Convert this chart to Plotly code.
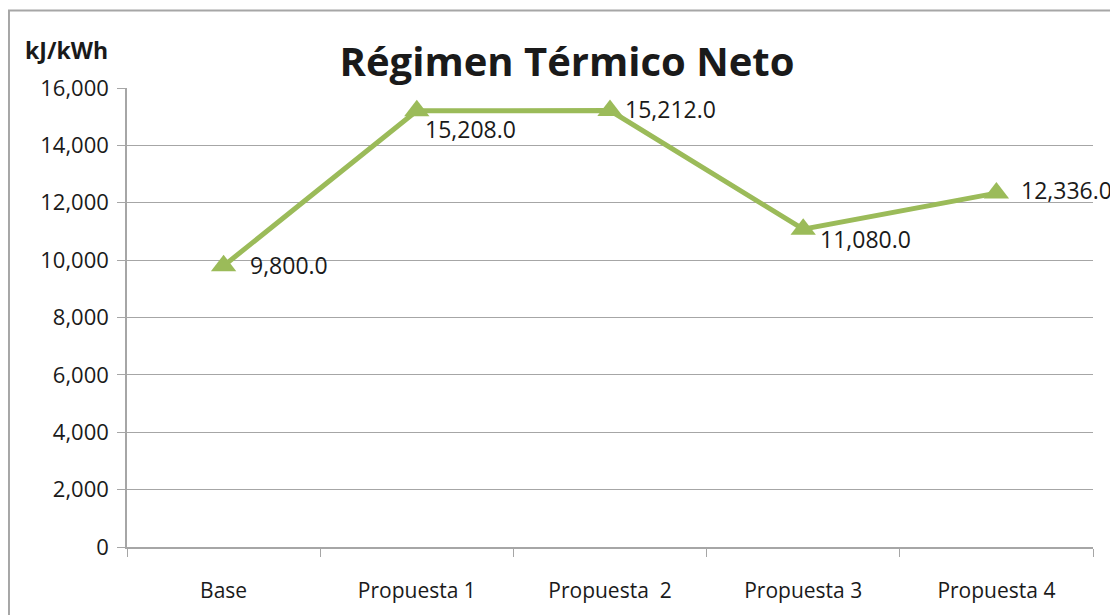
import plotly.graph_objects as go

# datos del gráfico
categorias = ["Base", "Propuesta 1", "Propuesta  2", "Propuesta 3", "Propuesta 4"]
regimen = [9800.0, 15208.0, 15212.0, 11080.0, 12336.0]
# desplazamiento de etiquetas (px)
desp_x = [24, 6, 13, 15, 23]
desp_y = [1, -18, 2, -10, 3]

# la página añade 8 px de margen al cuerpo
OFF = 8
W, H = 1118 - OFF, 615 - OFF
L, T = 127 - OFF, 88 - OFF
R, B = W - (1093 - OFF), H - (547 - OFF)
pw, ph = W - L - R, H - T - B

fig = go.Figure()
fig.add_trace(go.Scatter(
    x=categorias, y=regimen,
    mode="lines+markers",
    line=dict(color="#9BBB59", width=5),
    marker=dict(symbol="triangle-up", size=22, color="#9BBB59"),
    cliponaxis=False,
    showlegend=False,
))

anots = [dict(text="<b>kJ/kWh</b>", xref="paper", yref="paper",
              x=(66 - OFF - L) / pw, y=1 + (T - (50 - OFF)) / ph,
              xanchor="center", yanchor="middle", showarrow=False,
              font=dict(size=23))]
for c, v, dx, dy in zip(categorias, regimen, desp_x, desp_y):
    anots.append(dict(x=c, y=v, text=f"{v:,.1f}", showarrow=False,
                      xanchor="left", yanchor="middle", xshift=dx, yshift=dy,
                      font=dict(size=23, color="#1a1a1a")))

fig.update_layout(
    width=W, height=H,
    margin=dict(l=L, r=R, t=T, b=B, autoexpand=False),
    paper_bgcolor="white", plot_bgcolor="white",
    font=dict(family="Open Sans", size=21, color="#1a1a1a"),
    title=dict(text="<b>Régimen Térmico Neto</b>", x=(567 - OFF - L) / pw, xref="paper",
               y=1 - (62 - OFF) / H, yanchor="middle", xanchor="center",
               font=dict(size=40, color="#1a1a1a")),
    xaxis=dict(type="category", range=[-0.5, 4.5], tickson="boundaries",
               ticks="outside", ticklen=8, tickcolor="#A6A6A6",
               showline=True, linecolor="#A6A6A6", linewidth=1.5,
               showgrid=False, tickfont=dict(size=21), ticklabelstandoff=24,
               automargin=False),
    yaxis=dict(range=[0, 16000], dtick=2000, tickformat=",",
               ticks="outside", ticklen=8, tickcolor="#A6A6A6",
               showline=True, linecolor="#A6A6A6", linewidth=1.5,
               gridcolor="#A6A6A6", gridwidth=1.2, zeroline=False,
               tickfont=dict(size=22), ticklabelstandoff=4, automargin=False),
    shapes=[dict(type="rect", xref="paper", yref="paper",
                 x0=(8 - OFF - L) / pw + 0.001, x1=(W + 20 - L) / pw,
                 y0=-(H + 20 - T - ph) / ph, y1=1 + (T - (9 - OFF)) / ph - 0.003,
                 line=dict(color="#A6A6A6", width=2), layer="below")],
    annotations=anots,
)

fig.write_html("out.html")
